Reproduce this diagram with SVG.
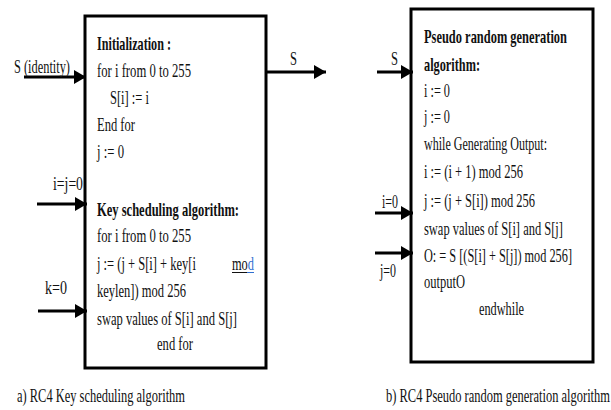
<svg xmlns="http://www.w3.org/2000/svg" width="611" height="410" viewBox="0 0 611 410">
  <style>
    text { font-family: "Liberation Serif", "Times New Roman", serif; font-size: 19px; fill: #111; }
    .b { font-weight: bold; }
    .box { fill: #fff; stroke: #000; stroke-width: 3; }
    .wire { stroke: #000; stroke-width: 3; fill: none; marker-end: url(#head); }
  </style>
  <defs>
    <marker id="head" markerUnits="userSpaceOnUse" markerWidth="12" markerHeight="14" refX="12" refY="7" orient="auto">
      <path d="M0,0 L12,7 L0,14 z" fill="#000"/>
    </marker>
  </defs>

  <rect width="611" height="410" fill="#fff"/>

  <!-- Key scheduling block -->
  <g id="ksa">
    <rect class="box" x="85" y="16" width="181" height="352"/>
    <text class="b" x="97" y="50" textLength="74" lengthAdjust="spacingAndGlyphs">Initialization :</text>
    <text x="97" y="77" textLength="94" lengthAdjust="spacingAndGlyphs">for i from 0 to 255</text>
    <text x="110" y="104" textLength="39" lengthAdjust="spacingAndGlyphs">S[i] := i</text>
    <text x="97" y="131" textLength="38" lengthAdjust="spacingAndGlyphs">End for</text>
    <text x="97" y="158" textLength="27" lengthAdjust="spacingAndGlyphs">j := 0</text>
    <text class="b" x="97" y="216" textLength="142" lengthAdjust="spacingAndGlyphs">Key scheduling algorithm:</text>
    <text x="97" y="242" textLength="94" lengthAdjust="spacingAndGlyphs">for i from 0 to 255</text>
    <text x="97" y="270" textLength="99" lengthAdjust="spacingAndGlyphs">j := (j + S[i] + key[i</text>
    <text x="232" y="270" textLength="22" lengthAdjust="spacingAndGlyphs">mo<tspan fill="#2f6fd0">d</tspan></text>
    <line x1="232" y1="272.5" x2="247" y2="272.5" stroke="#111" stroke-width="1"/>
    <line x1="247" y1="272.5" x2="254" y2="272.5" stroke="#2f6fd0" stroke-width="1"/>
    <text x="97" y="297" textLength="89" lengthAdjust="spacingAndGlyphs">keylen]) mod 256</text>
    <text x="97" y="325" textLength="140" lengthAdjust="spacingAndGlyphs">swap values of S[i] and S[j]</text>
    <text x="157" y="350" textLength="36" lengthAdjust="spacingAndGlyphs">end for</text>
  </g>

  <!-- Pseudo random generation block -->
  <g id="prga">
    <rect class="box" x="411" y="9" width="182" height="353"/>
    <text class="b" x="424" y="43" textLength="143" lengthAdjust="spacingAndGlyphs">Pseudo random generation</text>
    <text class="b" x="424" y="71" textLength="56" lengthAdjust="spacingAndGlyphs">algorithm:</text>
    <text x="424" y="97" textLength="26" lengthAdjust="spacingAndGlyphs">i := 0</text>
    <text x="424" y="123" textLength="26" lengthAdjust="spacingAndGlyphs">j := 0</text>
    <text x="424" y="150" textLength="123" lengthAdjust="spacingAndGlyphs">while Generating Output:</text>
    <text x="424" y="178" textLength="99" lengthAdjust="spacingAndGlyphs">i := (i + 1) mod 256</text>
    <text x="424" y="207" textLength="111" lengthAdjust="spacingAndGlyphs">j := (j + S[i]) mod 256</text>
    <text x="424" y="235" textLength="139" lengthAdjust="spacingAndGlyphs">swap values of S[i] and S[j]</text>
    <text x="424" y="262" textLength="148" lengthAdjust="spacingAndGlyphs">O: = S [(S[i] + S[j]) mod 256]</text>
    <text x="424" y="288" textLength="41" lengthAdjust="spacingAndGlyphs">outputO</text>
    <text x="479" y="315" textLength="45" lengthAdjust="spacingAndGlyphs">endwhile</text>
  </g>

  <!-- Inputs and outputs -->
  <g id="connectors">
    <line class="wire" x1="24" y1="77" x2="86" y2="77"/>
    <line class="wire" x1="37" y1="204" x2="87" y2="204"/>
    <line class="wire" x1="38" y1="311" x2="87" y2="311"/>
    <line class="wire" x1="266" y1="72" x2="326" y2="72"/>
    <line class="wire" x1="377" y1="72" x2="413" y2="72"/>
    <line class="wire" x1="375" y1="213" x2="413" y2="213"/>
    <line class="wire" x1="375" y1="253" x2="413" y2="253"/>
  </g>

  <g id="labels">
    <text x="14" y="73" textLength="56" lengthAdjust="spacingAndGlyphs">S (identity)</text>
    <text x="53" y="190" textLength="30" lengthAdjust="spacingAndGlyphs">i=j=0</text>
    <text x="45" y="294" textLength="22" lengthAdjust="spacingAndGlyphs">k=0</text>
    <text x="290" y="65" textLength="7" lengthAdjust="spacingAndGlyphs">S</text>
    <text x="391" y="65" textLength="7" lengthAdjust="spacingAndGlyphs">S</text>
    <text x="382" y="208" textLength="16" lengthAdjust="spacingAndGlyphs">i=0</text>
    <text x="380" y="277" textLength="16" lengthAdjust="spacingAndGlyphs">j=0</text>
  </g>

  <g id="captions">
    <text x="17" y="402" textLength="168" lengthAdjust="spacingAndGlyphs">a) RC4 Key scheduling algorithm</text>
    <text x="386" y="402" textLength="224" lengthAdjust="spacingAndGlyphs">b) RC4 Pseudo random generation algorithm</text>
  </g>
</svg>
